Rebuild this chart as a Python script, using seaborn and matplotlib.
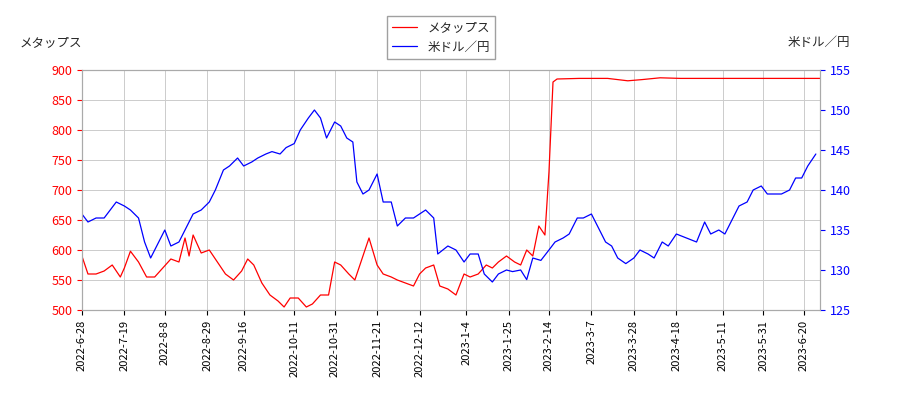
import matplotlib
matplotlib.use("Agg")
import matplotlib.pyplot as plt
import seaborn as sns
import pandas as pd
import numpy as np

sns.set_style("ticks")
plt.rcParams['font.family'] = ['Noto Sans CJK JP', 'DejaVu Sans']

red_dates = ["2022-06-28","2022-07-01","2022-07-05","2022-07-09","2022-07-13","2022-07-17","2022-07-19","2022-07-22","2022-07-26","2022-07-30",
"2022-08-03","2022-08-07","2022-08-11","2022-08-15","2022-08-18","2022-08-20","2022-08-22","2022-08-26","2022-08-30","2022-09-03",
"2022-09-07","2022-09-11","2022-09-15","2022-09-18","2022-09-21","2022-09-25","2022-09-29","2022-10-03","2022-10-06","2022-10-09",
"2022-10-13","2022-10-17","2022-10-20","2022-10-24","2022-10-28","2022-10-31","2022-11-03","2022-11-07","2022-11-10","2022-11-14",
"2022-11-17","2022-11-21","2022-11-24","2022-11-28","2022-12-01","2022-12-05","2022-12-09","2022-12-12","2022-12-15","2022-12-19",
"2022-12-22","2022-12-26","2022-12-30","2023-01-03","2023-01-06","2023-01-10","2023-01-14","2023-01-17","2023-01-20","2023-01-24",
"2023-01-28","2023-01-31","2023-02-03","2023-02-06","2023-02-09","2023-02-12","2023-02-14","2023-02-16","2023-02-18","2023-03-01",
"2023-03-15","2023-03-25","2023-04-01","2023-04-10","2023-04-20","2023-05-10","2023-06-01","2023-06-28"]
red_vals = [590,560,560,565,575,555,570,598,580,555,
555,570,585,580,620,590,625,595,600,580,
560,550,565,585,575,545,525,515,505,520,
520,505,510,525,525,580,575,560,550,590,
620,575,560,555,550,545,540,560,570,575,
540,535,525,560,555,560,575,570,580,590,
580,575,600,590,640,625,730,880,885,886,
886,882,884,887,886,886,886,886]

blue_dates = ["2022-06-28","2022-07-01","2022-07-05","2022-07-09","2022-07-12","2022-07-15","2022-07-19","2022-07-22","2022-07-26","2022-07-29",
"2022-08-01","2022-08-04","2022-08-08","2022-08-11","2022-08-15","2022-08-18","2022-08-22","2022-08-26","2022-08-30","2022-09-02",
"2022-09-06","2022-09-09","2022-09-13","2022-09-16","2022-09-20","2022-09-23","2022-09-27","2022-09-30","2022-10-04","2022-10-07",
"2022-10-11","2022-10-14","2022-10-18","2022-10-21","2022-10-24","2022-10-27","2022-10-31","2022-11-03","2022-11-06","2022-11-09",
"2022-11-11","2022-11-14","2022-11-17","2022-11-21","2022-11-24","2022-11-28","2022-12-01","2022-12-05","2022-12-09","2022-12-12",
"2022-12-15","2022-12-19","2022-12-21","2022-12-26","2022-12-30","2023-01-03","2023-01-06","2023-01-10","2023-01-13","2023-01-17",
"2023-01-20","2023-01-24","2023-01-27","2023-01-31","2023-02-03","2023-02-06","2023-02-10","2023-02-14","2023-02-17","2023-02-21",
"2023-02-24","2023-02-28","2023-03-03","2023-03-07","2023-03-10","2023-03-14","2023-03-17","2023-03-20","2023-03-24","2023-03-28",
"2023-03-31","2023-04-04","2023-04-07","2023-04-11","2023-04-14","2023-04-18","2023-04-21","2023-04-25","2023-04-28","2023-05-02",
"2023-05-05","2023-05-09","2023-05-12","2023-05-16","2023-05-19","2023-05-23","2023-05-26","2023-05-30","2023-06-02","2023-06-05",
"2023-06-09","2023-06-13","2023-06-16","2023-06-19","2023-06-22","2023-06-26"]
blue_vals = [137.0,136.0,136.5,136.5,137.5,138.5,138.0,137.5,136.5,133.5,
131.5,133.0,135.0,133.0,133.5,135.0,137.0,137.5,138.5,140.0,
142.5,143.0,144.0,143.0,143.5,144.0,144.5,144.8,144.5,145.3,
145.8,147.5,149.0,150.0,149.0,146.5,148.5,148.0,146.5,146.0,
141.0,139.5,140.0,142.0,138.5,138.5,135.5,136.5,136.5,137.0,
137.5,136.5,132.0,133.0,132.5,131.0,132.0,132.0,129.5,128.5,
129.5,130.0,129.8,130.0,128.8,131.5,131.2,132.5,133.5,134.0,
134.5,136.5,136.5,137.0,135.5,133.5,133.0,131.5,130.8,131.5,
132.5,132.0,131.5,133.5,133.0,134.5,134.2,133.8,133.5,136.0,
134.5,135.0,134.5,136.5,138.0,138.5,140.0,140.5,139.5,139.5,
139.5,140.0,141.5,141.5,143.0,144.5]

tick_dates = ["2022-06-28","2022-07-19","2022-08-08","2022-08-29","2022-09-16","2022-10-11","2022-10-31",
"2022-11-21","2022-12-12","2023-01-04","2023-01-25","2023-02-14","2023-03-07","2023-03-28",
"2023-04-18","2023-05-11","2023-05-31","2023-06-20"]

red = pd.DataFrame({"date": pd.to_datetime(red_dates), "v": red_vals})
blue = pd.DataFrame({"date": pd.to_datetime(blue_dates), "v": blue_vals})

fig = plt.figure(figsize=(9, 4), dpi=100)
ax = fig.add_axes([0.091, 0.225, 0.82, 0.6])
ax2 = ax.twinx()
sns.lineplot(data=red, x="date", y="v", ax=ax, color="red", lw=0.9, label="メタップス", legend=False)
sns.lineplot(data=blue, x="date", y="v", ax=ax2, color="blue", lw=0.9, label="米ドル／円", legend=False)

ax.set_ylim(500, 900)
ax2.set_ylim(125, 155)
ax.set_yticks(range(500, 901, 50))
ax2.set_yticks(range(125, 156, 5))
ticks = pd.to_datetime(tick_dates)
ax.set_xticks(ticks)
ax.set_xticklabels([f"{t.year}-{t.month}-{t.day}" for t in ticks], rotation=90, fontsize=8)
ax.set_xlim(ticks[0], pd.Timestamp("2023-06-28"))
ax.grid(True, color="#cccccc", lw=0.7)
ax.set_xlabel(""); ax.set_ylabel(""); ax2.set_ylabel("")
ax.tick_params(axis="y", colors="red", labelsize=9)
ax2.tick_params(axis="y", colors="blue", labelsize=9)
ax.tick_params(axis="x", colors="black")
for a in (ax, ax2):
    for s in a.spines.values():
        s.set_color("#aaaaaa")
fig.text(0.022, 0.885, "メタップス", fontsize=9)
fig.text(0.945, 0.885, "米ドル／円", fontsize=9, ha="right")
h1, l1 = ax.get_legend_handles_labels()
h2, l2 = ax2.get_legend_handles_labels()
fig.legend(h1 + h2, l1 + l2, loc="upper center", bbox_to_anchor=(0.49, 0.975), fontsize=9,
           frameon=True, fancybox=False, edgecolor="#888888")
fig.savefig("out.png")
